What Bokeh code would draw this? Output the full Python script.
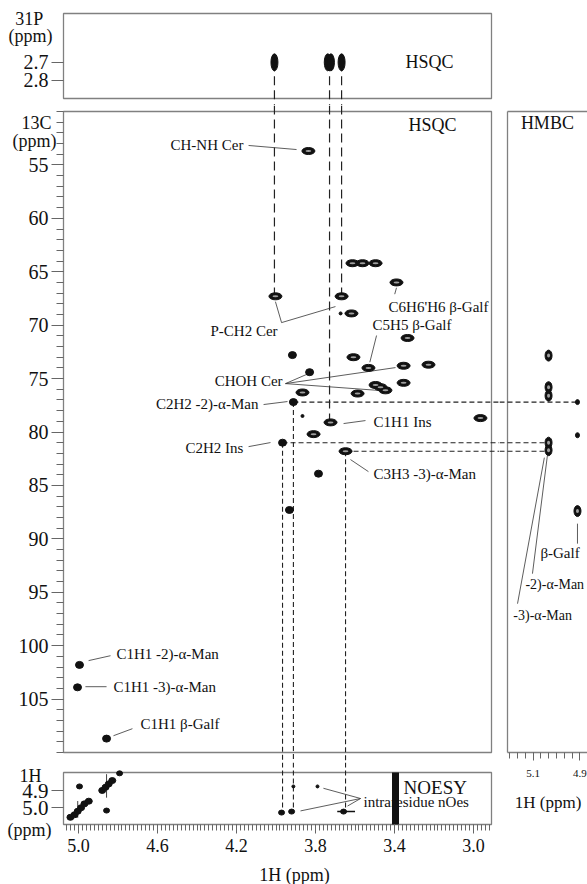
from bokeh.plotting import figure
from bokeh.layouts import row, column
from bokeh.models import Range1d, FixedTicker, PrintfTickFormatter
from bokeh.core.properties import value
from bokeh.embed import file_html
from bokeh.resources import INLINE

# ---------------- data ----------------
# 1H-31P HSQC : 1H (ppm), 31P (ppm)
p31_h = [4.008, 3.738, 3.722, 3.668]
p31_p = [2.70, 2.70, 2.70, 2.70]

# 1H-13C HSQC cross peaks : 1H (ppm), 13C (ppm)
hsqc_oval_h = [3.836, 4.003, 3.668, 3.613, 3.562, 3.496, 3.390, 3.618, 3.334,
               3.608, 3.532, 3.354, 3.228, 3.866, 3.587, 3.496, 3.471, 3.446,
               3.354, 2.965, 3.724, 3.810, 3.648]
hsqc_oval_c = [53.7, 67.3, 67.3, 64.2, 64.2, 64.2, 66.0, 68.9, 71.2,
               73.0, 74.0, 73.8, 73.7, 76.3, 76.4, 75.6, 75.8, 76.1,
               75.4, 78.7, 79.1, 80.2, 81.8]
hsqc_dot_h = [3.917, 3.830, 3.912, 3.967, 3.785, 3.932, 4.995, 5.005, 4.858]
hsqc_dot_c = [72.8, 74.4, 77.2, 81.0, 83.9, 87.3, 101.8, 103.9, 108.7]
hsqc_small_h = [3.866, 3.673]
hsqc_small_c = [78.5, 68.9]

# 1H-13C HMBC : 1H (ppm), 13C (ppm)
hmbc_h = [5.034, 5.034, 5.034, 5.034, 5.034, 4.910]
hmbc_c = [72.85, 75.8, 76.6, 81.0, 81.7, 87.4]
hmbc_small_h = [4.910, 4.910]
hmbc_small_c = [77.2, 80.3]

# NOESY : 1H F2 (ppm), 1H F1 (ppm)
noesy_diag_f2 = [5.041, 5.020, 5.004, 4.987, 4.970, 4.948, 4.880, 4.863, 4.847, 4.829]
noesy_diag_f1 = [5.057, 5.042, 5.021, 5.000, 4.977, 4.961, 4.897, 4.878, 4.858, 4.838]
noesy_cross_f2 = [4.995, 4.792, 4.858, 3.972, 3.921, 3.658]
noesy_cross_f1 = [4.873, 4.795, 5.017, 5.029, 5.023, 5.023]
noesy_weak_f2 = [3.912, 3.790]
noesy_weak_f1 = [4.873, 4.873]
noesy_ridge_f2 = [3.395]          # t1 noise ridge, spans the whole F1 window

# correlation links
link_p_h = [4.008, 3.729, 3.668]          # 31P -> 13C HSQC
link_p_c = [67.3, 79.1, 67.3]
link_h = [3.912, 3.967, 3.648]            # HSQC -> NOESY / HMBC
link_c = [77.2, 81.0, 81.8]
link_noesy_f1 = [5.023, 5.029, 5.023]
link_hmbc_h = [4.910, 5.034, 5.034]

# tick values
c13_ticks = [55, 60, 65, 70, 75, 80, 85, 90, 95, 100, 105]
p31_ticks = [2.7, 2.8]
h1_ticks = [5.0, 4.6, 4.2, 3.8, 3.4, 3.0]
noesy_f1_ticks = [4.9, 5.0]
hmbc_ticks = [5.1, 4.9]

# ---------------- annotations ----------------
hsqc_labels = ["CH-NH Cer", "P-CH2 Cer", "C6H6'H6 \u03b2-Galf", "C5H5 \u03b2-Galf",
               "CHOH Cer", "C2H2 -2)-\u03b1-Man", "C1H1 Ins", "C2H2 Ins",
               "C3H3 -3)-\u03b1-Man", "C1H1 -2)-\u03b1-Man", "C1H1 -3)-\u03b1-Man",
               "C1H1 \u03b2-Galf"]
hsqc_label_x = [4.165, 3.992, 3.430, 3.511, 3.967, 4.089, 3.506, 4.165, 3.506,
                4.808, 4.823, 4.686]
hsqc_label_y = [53.18, 70.5, 68.26, 69.94, 75.19, 77.34, 79.03, 81.46, 83.9,
                100.75, 103.84, 107.3]
hsqc_label_align = ["right", "right", "left", "left", "right", "right", "left",
                    "right", "left", "left", "left", "left"]
hsqc_leader_x = [[4.139, 3.896], [4.003, 3.972, 3.699], [3.399, 3.390],
                 [3.491, 3.525], [3.952, 3.835], [3.952, 3.395], [3.952, 3.471],
                 [4.063, 3.942], [3.547, 3.658], [4.139, 4.028], [3.623, 3.532],
                 [4.949, 4.838], [4.965, 4.858], [4.823, 4.727]]
hsqc_leader_y = [[53.18, 53.56], [67.8, 69.76, 68.26], [67.1, 66.5],
                 [70.97, 73.47], [75.47, 74.53], [75.47, 73.97], [75.47, 76.12],
                 [77.43, 77.15], [78.93, 79.21], [81.37, 80.99], [82.58, 83.71],
                 [101.4, 100.94], [103.84, 103.84], [108.43, 107.77]]

hmbc_labels = ["\u03b2-Galf", "-2)-\u03b1-Man", "-3)-\u03b1-Man"]
hmbc_label_x = [5.069, 5.133, 5.185]
hmbc_label_y = [91.29, 94.29, 97.19]
hmbc_leader_x = [[4.910, 4.910], [5.103, 5.039], [5.167, 5.052]]
hmbc_leader_y = [[88.58, 90.45], [93.26, 82.21], [96.07, 82.4]]

noesy_leader_x = [[3.572, 3.760], [3.572, 3.638], [3.572, 3.876]]
noesy_leader_y = [[4.945, 4.884], [4.945, 4.99], [4.945, 5.019]]

# ---------------- styling / geometry ----------------
FONT = "Liberation Serif"
INK = "#111111"
FRAME = "#808080"
TICK = "#666666"
LINK = "#222222"
X_LEFT, X_RIGHT = 5.076, 2.909
C_TOP, C_BOTTOM = 50.0, 110.0
P_TOP, P_BOTTOM = 2.43, 2.90
N_TOP, N_BOTTOM = 4.79, 5.10
HM_LEFT, HM_RIGHT = 5.21, 4.867

# pixels per ppm of each panel box
SX = 428 / (X_LEFT - X_RIGHT)
SP = 85 / (P_BOTTOM - P_TOP)
SC = 641 / (C_BOTTOM - C_TOP)
SN = 52 / (N_BOTTOM - N_TOP)
SH = 80 / (HM_LEFT - HM_RIGHT)

# frames fill each canvas; the panel boxes are drawn inside them
x_shared = Range1d(X_LEFT + 63 / SX, X_RIGHT - 8 / SX)
p_range = Range1d(P_BOTTOM + 7 / SP, P_TOP - 13 / SP)
c_range = Range1d(C_BOTTOM + 10 / SC, C_TOP - 6 / SC)
n_range = Range1d(N_BOTTOM + 60 / SN, N_TOP - 10 / SN)
hx_range = Range1d(HM_LEFT + 8 / SH, HM_RIGHT)
hc_range = Range1d(C_BOTTOM + 78 / SC, C_TOP - 111 / SC)


def make_fig(width, height, x_range, y_range):
    p = figure(width=width, height=height, x_range=x_range, y_range=y_range,
               output_backend="svg", toolbar_location=None, title=None,
               min_border_left=0, min_border_right=0,
               min_border_top=0, min_border_bottom=0)
    p.grid.visible = False
    p.outline_line_color = None
    p.background_fill_color = "white"
    p.border_fill_color = "white"
    return p


def style_axis(ax, size):
    ax.axis_line_color = None
    ax.major_tick_line_color = TICK
    ax.minor_tick_line_color = TICK
    ax.major_tick_in = 0
    ax.minor_tick_in = 0
    ax.major_label_text_font = FONT
    ax.major_label_text_font_size = size
    ax.major_label_text_color = INK


def txt(p, xs, ys, texts, size, align="left"):
    p.text(x=xs, y=ys, text=texts, text_font=value(FONT),
           text_font_size=value(size), text_color=INK, text_align=align,
           text_baseline="middle")


def box(p, top, bottom):
    p.quad(left=[X_LEFT], right=[X_RIGHT], top=[top], bottom=[bottom],
           fill_color=None, line_color=FRAME, line_width=1.3)


def ovals(p, xs, ys, w=13, h=7):
    p.ellipse(x=xs, y=ys, width=w, height=h, width_units="screen",
              height_units="screen", fill_color=INK, line_color=INK)
    p.ellipse(x=xs, y=ys, width=w * 0.45, height=2, width_units="screen",
              height_units="screen", fill_color="white", fill_alpha=0.6,
              line_color=None)


def dots(p, xs, ys, w=8, h=7):
    p.ellipse(x=xs, y=ys, width=w, height=h, width_units="screen",
              height_units="screen", fill_color=INK, line_color=INK)


LONG = "9 5"
SHORT = "5 3"

# ---------------- 31P panel ----------------
fp = make_fig(499, 105, x_shared, p_range)
fp.xaxis.visible = False
ya = fp.yaxis[0]
ya.fixed_location = X_LEFT
ya.ticker = FixedTicker(ticks=p31_ticks)
ya.formatter = PrintfTickFormatter(format="%.1f")
style_axis(ya, "20px")
ya.major_tick_out = 12
ya.major_label_standoff = 3
box(fp, P_TOP, P_BOTTOM)
fp.segment(x0=link_p_h, y0=[p31_p[0]] * 3, x1=link_p_h, y1=[p_range.start] * 3,
           line_color=LINK, line_dash=LONG, line_width=1.2)
fp.ellipse(x=p31_h, y=p31_p, width=7, height=17, width_units="screen",
           height_units="screen", fill_color=INK, line_color=INK)
txt(fp, [3.344], [2.70], ["HSQC"], "18px")
txt(fp, [5.250, 5.243], [2.463, 2.557], ["31P", "(ppm)"], "18px", "center")

# ---------------- HSQC panel ----------------
fm = make_fig(499, 657, x_shared, c_range)
fm.xaxis.visible = False
ya = fm.yaxis[0]
ya.fixed_location = X_LEFT
ya.ticker = FixedTicker(ticks=c13_ticks, minor_ticks=list(range(50, 111)))
style_axis(ya, "20px")
ya.major_tick_out = 12
ya.minor_tick_out = 7
ya.major_label_standoff = 3
box(fm, C_TOP, C_BOTTOM)
fm.segment(x0=link_p_h, y0=[c_range.end] * 3, x1=link_p_h, y1=link_p_c,
           line_color=LINK, line_dash=LONG, line_width=1.2)
fm.segment(x0=link_h, y0=link_c, x1=link_h, y1=[c_range.start] * 3,
           line_color=LINK, line_dash=SHORT, line_width=1.1)
fm.segment(x0=link_h, y0=link_c, x1=[x_shared.end] * 3, y1=link_c,
           line_color=LINK, line_dash=SHORT, line_width=1.1)
fm.multi_line(xs=hsqc_leader_x, ys=hsqc_leader_y, line_color="#333333",
              line_width=0.8)
ovals(fm, hsqc_oval_h, hsqc_oval_c)
dots(fm, hsqc_dot_h, hsqc_dot_c)
dots(fm, hsqc_small_h, hsqc_small_c, 3, 3)
for al in ("left", "right"):
    idx = [i for i, a in enumerate(hsqc_label_align) if a == al]
    txt(fm, [hsqc_label_x[i] for i in idx], [hsqc_label_y[i] for i in idx],
        [hsqc_labels[i] for i in idx], "15px", al)
txt(fm, [3.329], [51.3], ["HSQC"], "18px")
txt(fm, [5.213, 5.223], [51.03, 52.72], ["13C", "(ppm)"], "18px", "center")

# ---------------- NOESY panel ----------------
fn = make_fig(499, 122, x_shared, n_range)
ya = fn.yaxis[0]
ya.fixed_location = X_LEFT
ya.ticker = FixedTicker(ticks=noesy_f1_ticks)
ya.formatter = PrintfTickFormatter(format="%.1f")
style_axis(ya, "21px")
ya.major_tick_out = 12
ya.major_label_standoff = 3
xa = fn.xaxis[0]
xa.fixed_location = N_BOTTOM
xa.ticker = FixedTicker(ticks=h1_ticks,
                        minor_ticks=[round(5.06 - 0.02 * k, 2) for k in range(108)])
xa.formatter = PrintfTickFormatter(format="%.1f")
style_axis(xa, "18px")
xa.major_tick_out = 9
xa.minor_tick_out = 6
xa.major_label_standoff = 5
box(fn, N_TOP, N_BOTTOM)
fn.segment(x0=link_h, y0=[n_range.end] * 3, x1=link_h, y1=link_noesy_f1,
           line_color=LINK, line_dash=SHORT, line_width=1.1)
fn.segment(x0=[4.858, 5.004], y0=[4.80, 4.96], x1=[4.858, 5.004], y1=[4.94, 5.06],
           line_color=INK, line_width=0.8)
fn.segment(x0=[3.69], y0=[5.023], x1=[3.60], y1=[5.023], line_color=INK,
           line_width=1.5)
fn.multi_line(xs=noesy_leader_x, ys=noesy_leader_y, line_color="#333333",
              line_width=0.8)
dots(fn, noesy_diag_f2, noesy_diag_f1, 7, 6)
dots(fn, noesy_cross_f2, noesy_cross_f1, 6, 5)
dots(fn, noesy_weak_f2, noesy_weak_f1, 3, 3)
txt(fn, [3.557], [4.968], ["intraresidue nOes"], "15px")
txt(fn, [3.354], [4.878], ["NOESY"], "19px")
fn.segment(x0=noesy_ridge_f2, y0=[N_TOP], x1=noesy_ridge_f2, y1=[N_BOTTOM],
           line_color=INK, line_width=7)
txt(fn, [5.243, 5.248], [4.808, 5.13], ["1H", "(ppm)"], "18px", "center")
txt(fn, [3.906], [5.404], ["1H (ppm)"], "18px", "center")

# ---------------- HMBC panel ----------------
fh = make_fig(88, 830, hx_range, hc_range)
fh.yaxis.visible = False
xa = fh.xaxis[0]
xa.fixed_location = C_BOTTOM
xa.ticker = FixedTicker(ticks=hmbc_ticks,
                        minor_ticks=[5.2 - 0.2 / 6 * k for k in range(11)])
xa.formatter = PrintfTickFormatter(format="%.1f")
style_axis(xa, "11px")
xa.major_tick_out = 8
xa.minor_tick_out = 6
xa.major_label_standoff = 9
fh.segment(x0=[HM_LEFT, HM_LEFT, HM_LEFT], y0=[C_TOP, C_TOP, C_BOTTOM],
           x1=[HM_LEFT, HM_RIGHT, HM_RIGHT], y1=[C_BOTTOM, C_TOP, C_BOTTOM],
           line_color=FRAME, line_width=1.3)
fh.segment(x0=[hx_range.start] * 3, y0=link_c, x1=link_hmbc_h, y1=link_c,
           line_color=LINK, line_dash=SHORT, line_width=1.1)
fh.multi_line(xs=hmbc_leader_x, ys=hmbc_leader_y, line_color="#333333",
              line_width=0.8)
fh.ellipse(x=hmbc_h, y=hmbc_c, width=7, height=11, width_units="screen",
           height_units="screen", fill_color=INK, line_color=INK)
fh.ellipse(x=hmbc_h, y=hmbc_c, width=3, height=4, width_units="screen",
           height_units="screen", fill_color="white", fill_alpha=0.6,
           line_color=None)
dots(fh, hmbc_small_h, hmbc_small_c, 4, 5)
txt(fh, hmbc_label_x[:1], hmbc_label_y[:1], hmbc_labels[:1], "15px")
txt(fh, hmbc_label_x[1:], hmbc_label_y[1:], hmbc_labels[1:], "14px")
txt(fh, [5.039], [51.1], ["HMBC"], "18px", "center")
txt(fh, [5.036], [114.68], ["1H (ppm)"], "17px", "center")

layout = row(column(fp, fm, fn), fh)
open("out.html", "w").write(file_html(layout, INLINE))
